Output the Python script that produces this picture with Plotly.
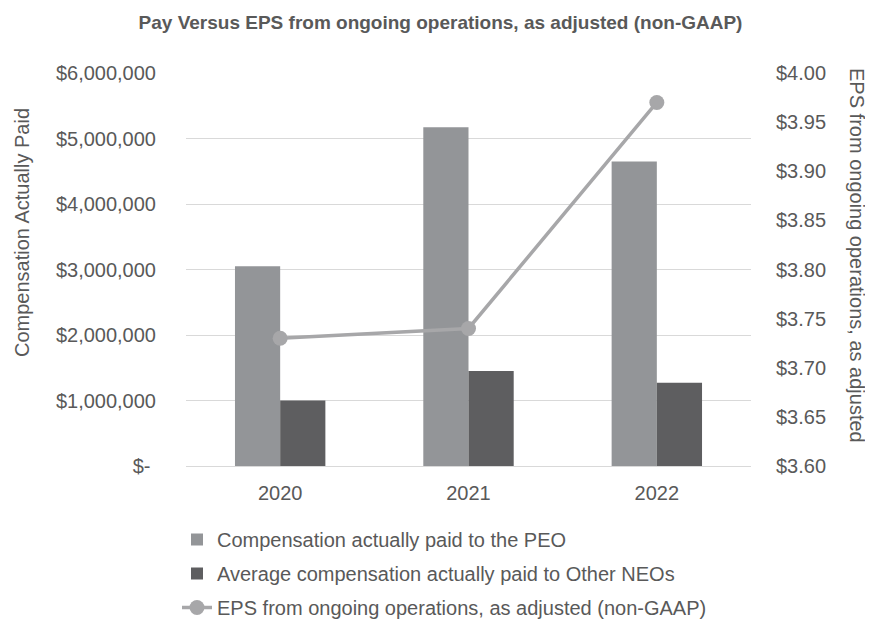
import plotly.graph_objects as go

years = ["2020", "2021", "2022"]
peo_cap = [3050000, 5170000, 4650000]
neo_cap = [1000000, 1450000, 1270000]
eps = [3.73, 3.74, 3.97]

left_tickvals = [0, 1000000, 2000000, 3000000, 4000000, 5000000, 6000000]
left_ticktext = ["$-\u00a0", "$1,000,000", "$2,000,000", "$3,000,000",
                 "$4,000,000", "$5,000,000", "$6,000,000"]
right_tickvals = [3.60, 3.65, 3.70, 3.75, 3.80, 3.85, 3.90, 3.95, 4.00]
right_ticktext = ["$%.2f" % v for v in right_tickvals]

FONT = "Liberation Sans, Arial, sans-serif"
TXT = "#595959"
OFF = 8  # page body margin
W, H = 873 - OFF, 620 - OFF
L, R, T, B = 186 - OFF, 122, 73 - OFF, 154
PW = W - L - R
PH = H - T - B


def px(x):
    return (x - OFF - L) / PW


def py(y):
    return (T + PH - (y - OFF)) / PH


fig = go.Figure()
fig.add_trace(go.Bar(x=years, y=peo_cap, name="Compensation actually paid to the PEO",
                     legendgroup="a",
                     marker=dict(color="#939598", line=dict(width=0))))
fig.add_trace(go.Bar(x=years, y=neo_cap, name="Average compensation actually paid to Other NEOs",
                     legendgroup="b",
                     marker=dict(color="#5E5E60", line=dict(width=0))))
fig.add_trace(go.Scatter(x=years, y=eps, yaxis="y2", mode="lines+markers",
                         name="EPS from ongoing operations, as adjusted (non-GAAP)",
                         legendgroup="c",
                         line=dict(color="#A7A7A9", width=3.5),
                         marker=dict(color="#A7A7A9", size=15)))

fig.update_layout(
    width=W, height=H,
    margin=dict(l=L, r=R, t=T, b=B, autoexpand=False),
    paper_bgcolor="white", plot_bgcolor="white",
    font=dict(family=FONT, color=TXT, size=20),
    barmode="group", bargap=0.52, bargroupgap=0,
    title=dict(text="<b>Pay Versus EPS from ongoing operations, as adjusted (non-GAAP)</b>",
               x=0.5, xanchor="center", y=1 - (22 - OFF) / H, yanchor="middle",
               font=dict(family=FONT, size=19, color=TXT)),
    xaxis=dict(showgrid=False, showline=True, linecolor="#D9D9D9", linewidth=1,
               ticks="", tickfont=dict(size=20, color=TXT), ticklabelstandoff=9,
               automargin=False),
    yaxis=dict(range=[0, 6000000], tickvals=left_tickvals, ticktext=left_ticktext,
               showgrid=True, gridcolor="#D9D9D9", gridwidth=1, zeroline=False,
               tickfont=dict(size=20, color=TXT), ticklabelstandoff=29, automargin=False),
    yaxis2=dict(range=[3.60, 4.00], tickvals=right_tickvals, ticktext=right_ticktext,
                overlaying="y", side="right", showgrid=False, zeroline=False,
                tickfont=dict(size=20, color=TXT), ticklabelstandoff=24, automargin=False),
    legend=dict(orientation="v", x=px(177), xanchor="left",
                y=py(520), yanchor="top",
                font=dict(size=20, color=TXT), bgcolor="rgba(0,0,0,0)",
                traceorder="grouped", tracegroupgap=5),
    showlegend=True,
)

fig.add_annotation(text="Compensation Actually Paid", textangle=-90,
                   xref="paper", yref="paper", x=px(22), y=py(233),
                   xanchor="center", yanchor="middle", showarrow=False,
                   font=dict(family=FONT, size=20, color=TXT))
fig.add_annotation(text="EPS from ongoing operations, as adjusted", textangle=90,
                   xref="paper", yref="paper", x=px(857), y=py(255),
                   xanchor="center", yanchor="middle", showarrow=False,
                   font=dict(family=FONT, size=20, color=TXT))

fig.write_html("out.html")
